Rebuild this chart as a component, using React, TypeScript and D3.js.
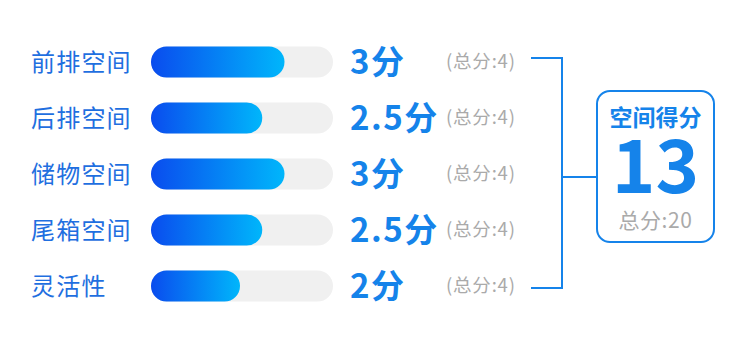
import React from "react";
import * as d3 from "d3";

const categories = ["前排空间", "后排空间", "储物空间", "尾箱空间", "灵活性"];
const scores = [3, 2.5, 3, 2.5, 2];
const maxScores = [4, 4, 4, 4, 4];
const totalTitle = "空间得分";
const totalScore = 13;
const totalMax = 20;

const W = 750;
const H = 339;
const FONT = "'Noto Sans CJK SC', 'Noto Sans', sans-serif";
const BLUE = "#1583ea";

export default function App() {
  const y = d3.scalePoint<string>().domain(categories).range([62, 286]);
  const x = d3.scaleLinear().domain([0, 4]).range([0, 178]);
  const trackX = 151;
  const trackW = 182;
  const barH = 31;
  const boxX = 597, boxY = 91, boxW = 117, boxH = 151;
  const brX = 562;
  const topY = (y(categories[0]) as number) - 4;
  const botY = (y(categories[categories.length - 1]) as number) + 2;
  const midY = 177;

  return (
    <svg width={W} height={H} style={{ position: "absolute", left: 0, top: 0, background: "#fff" }} fontFamily={FONT}>
      <defs>
        <linearGradient id="barGrad" x1="0" x2="1" y1="0" y2="0">
          <stop offset="0%" stopColor="#0a4cee" />
          <stop offset="100%" stopColor="#00b6fb" />
        </linearGradient>
      </defs>
      {categories.map((c, i) => {
        const cy = y(c) as number;
        return (
          <g key={c}>
            <text x={31} y={cy} dy="0.36em" fontSize={24} letterSpacing={1.2} fill="#1f6fe0">{c}</text>
            <rect x={trackX} y={cy - barH / 2} width={trackW} height={barH} rx={barH / 2} fill="#f0f0f0" />
            <rect x={trackX} y={cy - barH / 2} width={x(scores[i])} height={barH} rx={barH / 2} fill="url(#barGrad)" />
            <text x={350} y={cy} dy="0.36em" fontSize={33} letterSpacing={1.5} fontWeight="bold" fill={BLUE}>{`${scores[i]}分`}</text>
            <text x={446} y={cy - 1} dy="0.36em" fontSize={18.5} letterSpacing={0.8} fill="#aaaaaa">{`(总分:${maxScores[i]})`}</text>
          </g>
        );
      })}
      <path
        d={`M531,${topY}H${brX}V${botY}H531M${brX},${midY}H${boxX}`}
        fill="none"
        stroke={BLUE}
        strokeWidth={2}
      />
      <rect x={boxX} y={boxY} width={boxW} height={boxH} rx={13} fill="#fff" stroke={BLUE} strokeWidth={2} />
      <text x={boxX + boxW / 2} y={126} textAnchor="middle" fontSize={23} fontWeight="bold" fill={BLUE}>{totalTitle}</text>
      <text x={boxX + boxW / 2} y={193} textAnchor="middle" fontSize={74} fontWeight="bold" fill={BLUE}>{totalScore}</text>
      <text x={boxX + boxW / 2} y={228} textAnchor="middle" fontSize={21} letterSpacing={0.6} fill="#aaaaaa">{`总分:${totalMax}`}</text>
    </svg>
  );
}
